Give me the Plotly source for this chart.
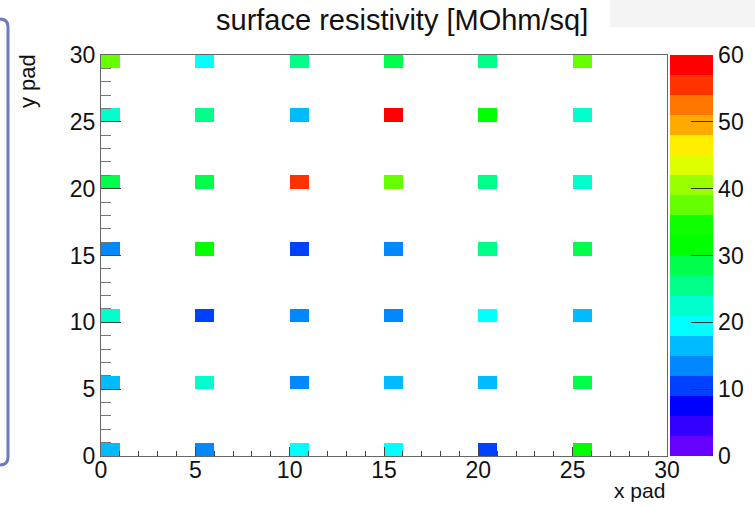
import numpy as np
import plotly.graph_objects as go

# ---- data ----
x_pads = [0, 5, 10, 15, 20, 25]
y_pads = [0, 5, 10, 15, 20, 25, 29]
res_y0 = [16.5, 13.5, 19.5, 19.5, 10.5, 31.5]
res_y5 = [16.5, 22.5, 13.5, 16.5, 16.5, 28.5]
res_y10 = [22.5, 10.5, 13.5, 13.5, 19.5, 16.5]
res_y15 = [13.5, 31.5, 10.5, 13.5, 25.5, 28.5]
res_y20 = [28.5, 28.5, 55.5, 37.5, 25.5, 22.5]
res_y25 = [22.5, 25.5, 16.5, 58.5, 31.5, 22.5]
res_y29 = [37.5, 19.5, 25.5, 28.5, 25.5, 37.5]
rows = [res_y0, res_y5, res_y10, res_y15, res_y20, res_y25, res_y29]

palette = ["#6600ff", "#3300ff", "#0000ff", "#0040ff", "#0088ff", "#00bbff",
           "#00ffff", "#00ffcc", "#00ff88", "#00ff4c", "#00ff00", "#10ff00",
           "#66ff00", "#99ff00", "#ddff00", "#ffee00", "#ffaa00", "#ff7700",
           "#ff3300", "#ff0000"]
cb_ticks = [0, 10, 20, 30, 40, 50, 60]

# ---- build histogram grid (30 x 30 bins, 0..30) ----
nb = 30
z = [[None] * nb for _ in range(nb)]
for yi, row in zip(y_pads, rows):
    for xi, v in zip(x_pads, row):
        z[yi][xi] = v
centers = [i + 0.5 for i in range(nb)]

n = len(palette)
cscale = []
for i, c in enumerate(palette):
    cscale.append([i / n, c])
    cscale.append([(i + 1) / n, c])

FONT = "Liberation Sans, Arial, sans-serif"
W, H = 755, 506
L, R, T, B = 101, 667, 55, 456


def px(xp):
    return (xp - L) / (R - L)


def py(yp):
    return (B - yp) / (B - T)


fig = go.Figure(go.Heatmap(
    x=centers, y=centers, z=z, zmin=0, zmax=60,
    colorscale=cscale, hoverongaps=False,
    colorbar=dict(
        x=px(670), xanchor="left", xpad=0, ypad=0,
        y=0, yanchor="bottom", len=1, lenmode="fraction",
        thickness=43, outlinewidth=0,
        tickvals=cb_ticks, ticks="inside", ticklen=22, tickcolor="#333",
        tickfont=dict(family=FONT, size=23, color="#111"),
    ),
))

fig.update_layout(
    width=W, height=H,
    margin=dict(l=L, r=W - R, t=T, b=H - B, autoexpand=False),
    paper_bgcolor="white", plot_bgcolor="white",
    showlegend=False,
    font=dict(family=FONT, color="#111"),
)

fig.update_xaxes(
    range=[0, 30], tickvals=[0, 5, 10, 15, 20, 25, 30], showgrid=False, zeroline=False,
    ticks="inside", ticklen=9, tickcolor="#444", tickwidth=1,
    minor=dict(dtick=1, ticks="inside", ticklen=5, tickcolor="#444", showgrid=False),
    showline=True, linecolor="#666", linewidth=1, mirror=True,
    ticklabelstandoff=-7,
    tickfont=dict(family=FONT, size=23, color="#111"),
)
fig.update_yaxes(
    range=[0, 30], tickvals=[0, 5, 10, 15, 20, 25, 30], showgrid=False, zeroline=False,
    ticks="inside", ticklen=20, tickcolor="#444", tickwidth=1,
    minor=dict(dtick=1, ticks="inside", ticklen=10, tickcolor="#777", showgrid=False),
    showline=True, linecolor="#666", linewidth=1, mirror=True,
    tickfont=dict(family=FONT, size=23, color="#111"),
)

fig.add_annotation(text="surface resistivity [MOhm/sq]", xref="paper", yref="paper",
                   x=px(402), y=py(20), xanchor="center", yanchor="middle",
                   showarrow=False, font=dict(family=FONT, size=29, color="#111"))
fig.add_annotation(text="x pad", xref="paper", yref="paper",
                   x=px(667), y=py(490), xanchor="right", yanchor="middle",
                   showarrow=False, font=dict(family=FONT, size=21, color="#111"))
fig.add_annotation(text="y pad", xref="paper", yref="paper", textangle=-90,
                   x=px(28), y=py(52), xanchor="center", yanchor="top",
                   showarrow=False, font=dict(family=FONT, size=22, color="#111"))

# faint grey box top right and left slide border
fig.add_shape(type="rect", xref="paper", yref="paper",
              x0=px(610), x1=px(755), y0=py(27), y1=py(0),
              fillcolor="#f4f4f4", line_width=0, layer="below")
path = (f"M {px(0)},{py(19)} Q {px(8)},{py(19)} {px(8)},{py(27)} "
        f"L {px(8)},{py(457)} Q {px(8)},{py(465)} {px(0)},{py(465)}")
fig.add_shape(type="path", xref="paper", yref="paper", path=path,
              line=dict(color="#6b7cba", width=3))

fig.write_html("out.html")
